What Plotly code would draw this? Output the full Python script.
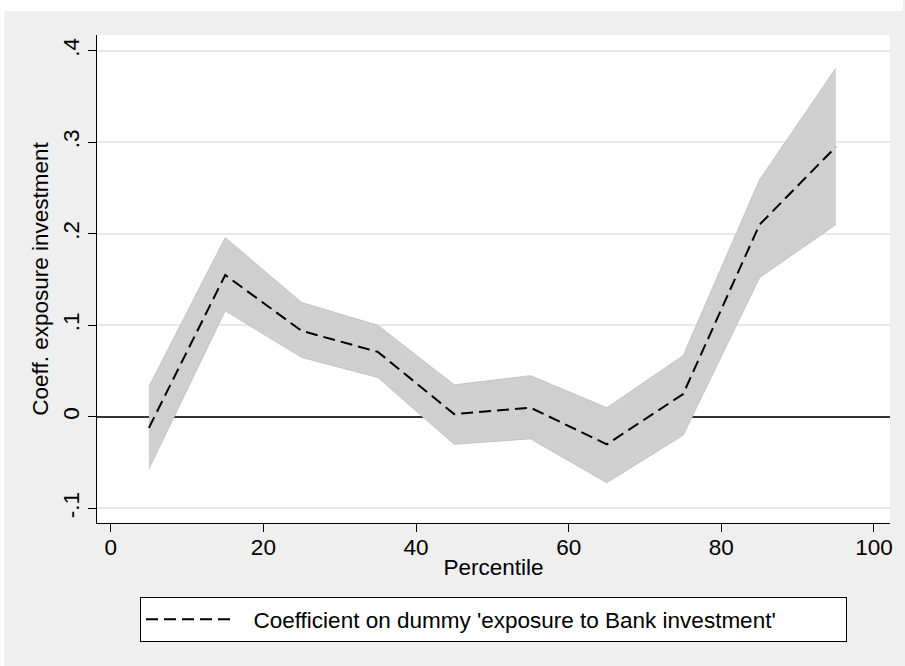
import plotly.graph_objects as go

# Data
percentile = [5, 15, 25, 35, 45, 55, 65, 75, 85, 95]
coef = [-0.012, 0.155, 0.094, 0.071, 0.003, 0.010, -0.030, 0.025, 0.210, 0.295]
ci_upper = [0.033, 0.196, 0.125, 0.100, 0.035, 0.045, 0.010, 0.067, 0.259, 0.381]
ci_lower = [-0.057, 0.116, 0.065, 0.043, -0.030, -0.024, -0.072, -0.020, 0.152, 0.210]

y_tickvals = [-0.1, 0, 0.1, 0.2, 0.3, 0.4]
y_ticktext = ["-.1", "0", ".1", ".2", ".3", ".4"]
x_tickvals = [0, 20, 40, 60, 80, 100]
x_ticktext = ["0", "20", "40", "60", "80", "100"]

legend_label = "Coefficient on dummy 'exposure to Bank investment'"
x_title = "Percentile"
y_title = "Coeff. exposure investment"

FONT = "Liberation Sans, Arial, Helvetica, sans-serif"
FS = 22.5
BAND = "rgb(207,207,207)"
BAND_EDGE = "rgb(196,196,196)"
BG = "rgb(239,239,239)"

fig = go.Figure()
fig.add_trace(go.Scatter(
    x=percentile, y=ci_lower, mode="lines",
    line=dict(color=BAND_EDGE, width=1), showlegend=False, hoverinfo="skip"))
fig.add_trace(go.Scatter(
    x=percentile, y=ci_upper, mode="lines", fill="tonexty", fillcolor=BAND,
    line=dict(color=BAND_EDGE, width=1), showlegend=False, hoverinfo="skip"))
fig.add_trace(go.Scatter(
    x=percentile, y=coef, mode="lines", name="\u00a0\u00a0" + legend_label,
    line=dict(color="black", width=2, dash="12px,6px")))

W, H = 905, 666
ml, mr, mt, mb = 97, 13, 35, 143
pw, ph = W - ml - mr, H - mt - mb

def px_x(px):
    return (px - ml) / pw

def px_y(py):
    return (H - mb - py) / ph

fig.update_layout(
    width=W, height=H,
    margin=dict(l=ml, r=mr, t=mt, b=mb, pad=0),
    paper_bgcolor=BG, plot_bgcolor="white",
    font=dict(family=FONT, size=FS, color="black"),
    showlegend=True,
    legend=dict(
        orientation="h", x=0.5, xanchor="center",
        y=px_y(597), yanchor="top",
        bgcolor="white", bordercolor="black", borderwidth=1,
        font=dict(family=FONT, size=FS, color="black"),
        itemwidth=90, entrywidth=600,
    ),
    xaxis=dict(
        range=[-1.8, 102.1], tickmode="array", tickvals=x_tickvals, ticktext=x_ticktext,
        showgrid=False, zeroline=False, showline=True, linecolor="black", linewidth=1,
        ticks="outside", ticklen=8, tickcolor="black", tickwidth=1,
        ticklabelstandoff=-4,
        tickfont=dict(family=FONT, size=FS, color="black"),
        title=dict(text=x_title, font=dict(family=FONT, size=FS, color="black"), standoff=0),
    ),
    yaxis=dict(
        range=[-0.1160, 0.4173], tickmode="array", tickvals=y_tickvals, ticktext=y_ticktext,
        tickangle=-90,
        showgrid=True, gridcolor="rgb(232,232,232)", gridwidth=1.5,
        zeroline=True, zerolinecolor="rgb(50,50,50)", zerolinewidth=1.5,
        showline=True, linecolor="black", linewidth=1,
        ticks="outside", ticklen=8, tickcolor="black", tickwidth=1,
        tickfont=dict(family=FONT, size=FS, color="black"),
        title=dict(text=y_title, font=dict(family=FONT, size=FS, color="black"), standoff=4),
    ),
    shapes=[
        dict(type="rect", xref="paper", yref="paper", x0=px_x(0), x1=px_x(W), y0=px_y(11), y1=px_y(0),
             fillcolor="white", line=dict(width=0), layer="above"),
        dict(type="rect", xref="paper", yref="paper", x0=px_x(0), x1=px_x(4), y0=px_y(H), y1=px_y(0),
             fillcolor="white", line=dict(width=0), layer="above"),
    ],
)

fig.write_html(
    "out.html",
    config={"displayModeBar": False},
    post_script="document.body.style.margin='0';document.body.style.padding='0';document.body.style.overflow='hidden';",
)
